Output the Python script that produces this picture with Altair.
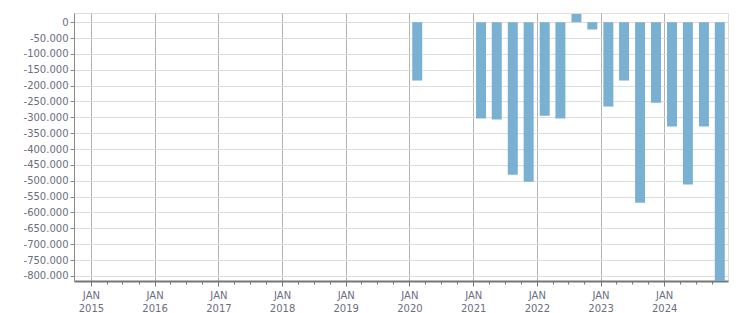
import altair as alt
import pandas as pd

# Quarter mid-points of the bars
quarters = [
    "2020-02-15",
    "2021-02-15", "2021-05-16", "2021-08-16", "2021-11-15",
    "2022-02-15", "2022-05-16", "2022-08-16", "2022-11-15",
    "2023-02-15", "2023-05-16", "2023-08-16", "2023-11-15",
    "2024-02-15", "2024-05-16", "2024-08-16", "2024-11-15",
]
values = [
    -184000,
    -304000, -307000, -481000, -503000,
    -295000, -304000, 26000, -23000,
    -266000, -184000, -569000, -254000,
    -329000, -512000, -329000, -816000,
]

y_ticks = [0, -50000, -100000, -150000, -200000, -250000, -300000, -350000,
           -400000, -450000, -500000, -550000, -600000, -650000, -700000,
           -750000, -800000]
tick_years = list(range(2015, 2025))
tick_months = [1, 4, 7, 10]

df = pd.DataFrame({"date": quarters, "value": values})

x_tick_values = [alt.DateTime(year=y, month=m, date=1, utc=True)
                 for y in tick_years for m in tick_months]

label_color = "#6c6c82"
is_jan = "utcmonth(datum.value) == 0"

x_axis = alt.Axis(
    values=x_tick_values,
    title=None,
    labelExpr="utcmonth(datum.value) == 0 ? ['JAN', utcFormat(datum.value, '%Y')] : ''",
    labelOverlap=False,
    labelFont="DejaVu Sans",
    labelFontSize=10,
    labelColor=label_color,
    labelLineHeight=13,
    labelBaseline="top",
    labelPadding=4,
    labelAlign="center",
    domainColor="#777777",
    domainWidth=2,
    tickColor="#777777",
    tickWidth=1,
    tickSize={"condition": {"test": is_jan, "value": 5}, "value": 3},
    grid=True,
    gridColor="#b3b3b3",
    gridWidth=1,
    gridOpacity={"condition": {"test": is_jan, "value": 1}, "value": 0},
)

y_axis = alt.Axis(
    values=y_ticks,
    title=None,
    labelExpr="(datum.value < 0 ? '-' : '') + replace(format(abs(datum.value), ','), ',', '.')",
    labelFont="DejaVu Sans",
    labelFontSize=10,
    labelColor=label_color,
    labelPadding=2,
    domainColor="#8a8a8a",
    domainWidth=1,
    tickColor="#8a8a8a",
    tickSize=4,
    grid=True,
    gridColor="#dcdcdc",
    gridWidth=1,
)

chart = alt.Chart(df).mark_bar(size=10, color="#7ab1d3").encode(
    x=alt.X("date:T", scale=alt.Scale(type="utc", padding=0,
                                      domain=[alt.DateTime(year=2014, month=9, date=26, utc=True),
                                              alt.DateTime(year=2025, month=1, date=1, utc=True)]),
            axis=x_axis),
    y=alt.Y("value:Q", scale=alt.Scale(domain=[-816000, 29000], nice=False, zero=False, padding=0),
            axis=y_axis),
).properties(
    width=654,
    height=268,
    autosize=alt.AutoSizeParams(type="none"),
    padding={"left": 74, "top": 13, "right": 23, "bottom": 32},
).configure_view(
    stroke="#e0e0e0",
    strokeWidth=1,
).configure(background="white")

chart.save("out.html", embed_options={"renderer": "svg", "actions": False})
